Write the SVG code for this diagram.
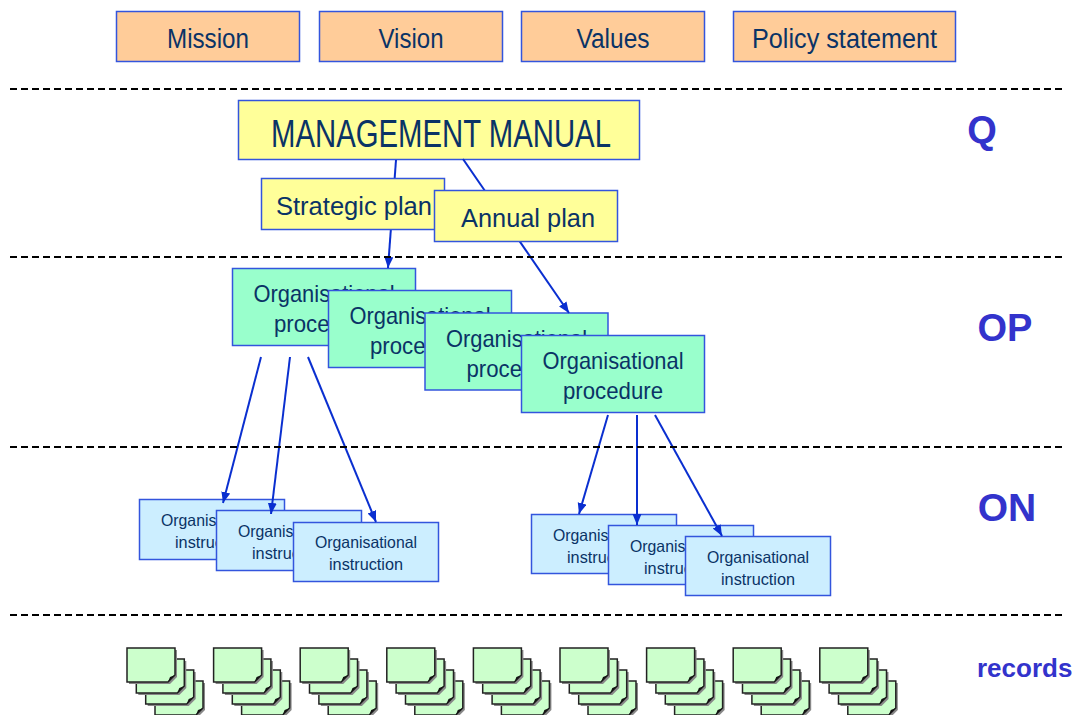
<svg xmlns="http://www.w3.org/2000/svg" xmlns:xlink="http://www.w3.org/1999/xlink" width="1075" height="715" viewBox="0 0 1075 715">
<style>
  .box { stroke: #3355dd; stroke-width: 1.5; }
  .orange { fill: #ffcc99; }
  .yellow { fill: #ffff99; }
  .green { fill: #99ffcc; }
  .blue { fill: #cceeff; }
  .t { font-family: "Liberation Sans", Arial, sans-serif; fill: #0a3366; text-anchor: middle; }
  .lvl { font-family: "Liberation Sans", Arial, sans-serif; font-weight: bold; fill: #3333cc; text-anchor: middle; }
  .dash { stroke: #000; stroke-width: 2; stroke-dasharray: 7 4; fill: none; }
  .conn { stroke: #0a2fd0; stroke-width: 2; fill: none; marker-end: url(#arr); }
  .page { fill: #ccffcc; stroke: #222; stroke-width: 1.5; }
  .shadow { fill: #888; }
</style>
<defs>
  <marker id="arr" markerUnits="userSpaceOnUse" markerWidth="12" markerHeight="10" refX="11" refY="4.5" orient="auto">
    <path d="M0,0 L11,4.5 L0,9 Z" fill="#0a2fd0"/>
  </marker>
  <g id="pg">
    <path class="shadow" d="M2,2 H50 V29 L43,36 H2 Z"/>
    <path class="page" d="M0,0 H48 V27 L41,34 H0 Z"/>
    <path d="M41,34 L43,29 L48,27 Z" fill="#111"/>
  </g>
  <g id="stack">
    <use xlink:href="#pg" x="28" y="33"/>
    <use xlink:href="#pg" x="18.7" y="22"/>
    <use xlink:href="#pg" x="9.3" y="11"/>
    <use xlink:href="#pg" x="0" y="0"/>
  </g>
</defs>
<rect width="1075" height="715" fill="#ffffff"/>

<g id="mission"><rect class="box orange" x="116.5" y="11.5" width="183" height="50"/><text class="t" x="208" y="48" font-size="27" textLength="82" lengthAdjust="spacingAndGlyphs">Mission</text></g>
<g id="vision"><rect class="box orange" x="319.5" y="11.5" width="183" height="50"/><text class="t" x="411" y="48" font-size="27" textLength="65" lengthAdjust="spacingAndGlyphs">Vision</text></g>
<g id="values"><rect class="box orange" x="521.5" y="11.5" width="183" height="50"/><text class="t" x="613" y="48" font-size="27" textLength="73" lengthAdjust="spacingAndGlyphs">Values</text></g>
<g id="policy"><rect class="box orange" x="733.5" y="11.5" width="222" height="50"/><text class="t" x="844.5" y="48" font-size="27" textLength="185" lengthAdjust="spacingAndGlyphs">Policy statement</text></g>

<g id="manual"><rect class="box yellow" x="238.5" y="100.5" width="401" height="59"/><text class="t" x="441" y="147" font-size="38" textLength="340" lengthAdjust="spacingAndGlyphs">MANAGEMENT MANUAL</text></g>

<g id="proc1"><rect class="box green" x="232.5" y="268.5" width="183" height="77"/><text class="t" x="324" y="302" font-size="24" textLength="141" lengthAdjust="spacingAndGlyphs">Organisational</text><text class="t" x="324" y="332" font-size="24" textLength="100" lengthAdjust="spacingAndGlyphs">procedure</text></g>
<g id="proc2"><rect class="box green" x="328.5" y="290.5" width="183" height="77"/><text class="t" x="420" y="324" font-size="24" textLength="141" lengthAdjust="spacingAndGlyphs">Organisational</text><text class="t" x="420" y="354" font-size="24" textLength="100" lengthAdjust="spacingAndGlyphs">procedure</text></g>
<g id="proc3"><rect class="box green" x="425" y="313" width="183" height="77"/><text class="t" x="516.5" y="347" font-size="24" textLength="141" lengthAdjust="spacingAndGlyphs">Organisational</text><text class="t" x="516.5" y="377" font-size="24" textLength="100" lengthAdjust="spacingAndGlyphs">procedure</text></g>
<g id="proc4"><rect class="box green" x="521.5" y="335.5" width="183" height="77"/><text class="t" x="613" y="369" font-size="24" textLength="141" lengthAdjust="spacingAndGlyphs">Organisational</text><text class="t" x="613" y="399" font-size="24" textLength="100" lengthAdjust="spacingAndGlyphs">procedure</text></g>

<g id="instr1"><rect class="box blue" x="139.5" y="499.5" width="145" height="60"/><text class="t" x="212" y="526" font-size="16.5" textLength="102" lengthAdjust="spacingAndGlyphs">Organisational</text><text class="t" x="212" y="548" font-size="16.5" textLength="74" lengthAdjust="spacingAndGlyphs">instruction</text></g>
<g id="instr2"><rect class="box blue" x="216.5" y="510.5" width="145" height="60"/><text class="t" x="289" y="537" font-size="16.5" textLength="102" lengthAdjust="spacingAndGlyphs">Organisational</text><text class="t" x="289" y="559" font-size="16.5" textLength="74" lengthAdjust="spacingAndGlyphs">instruction</text></g>
<g id="instr3"><rect class="box blue" x="293.5" y="522.5" width="145" height="59"/><text class="t" x="366" y="548" font-size="16.5" textLength="102" lengthAdjust="spacingAndGlyphs">Organisational</text><text class="t" x="366" y="570" font-size="16.5" textLength="74" lengthAdjust="spacingAndGlyphs">instruction</text></g>
<g id="instr4"><rect class="box blue" x="531.5" y="514.5" width="145" height="59"/><text class="t" x="604" y="541" font-size="16.5" textLength="102" lengthAdjust="spacingAndGlyphs">Organisational</text><text class="t" x="604" y="563" font-size="16.5" textLength="74" lengthAdjust="spacingAndGlyphs">instruction</text></g>
<g id="instr5"><rect class="box blue" x="608.5" y="525.5" width="145" height="59"/><text class="t" x="681" y="552" font-size="16.5" textLength="102" lengthAdjust="spacingAndGlyphs">Organisational</text><text class="t" x="681" y="574" font-size="16.5" textLength="74" lengthAdjust="spacingAndGlyphs">instruction</text></g>
<g id="instr6"><rect class="box blue" x="685.5" y="536.5" width="145" height="59"/><text class="t" x="758" y="563" font-size="16.5" textLength="102" lengthAdjust="spacingAndGlyphs">Organisational</text><text class="t" x="758" y="585" font-size="16.5" textLength="74" lengthAdjust="spacingAndGlyphs">instruction</text></g>

<g id="connectors">
  <line class="conn" x1="396" y1="160" x2="388" y2="268"/>
  <line class="conn" x1="463" y1="159" x2="569" y2="313"/>
  <line class="conn" x1="261" y1="357" x2="223" y2="503"/>
  <line class="conn" x1="290" y1="357" x2="271" y2="514"/>
  <line class="conn" x1="308" y1="357" x2="376" y2="522"/>
  <line class="conn" x1="608" y1="415" x2="579" y2="514"/>
  <line class="conn" x1="637" y1="415" x2="637" y2="525"/>
  <line class="conn" x1="655" y1="415" x2="722" y2="536"/>
</g>

<g id="strategic"><rect class="box yellow" x="261.5" y="178.5" width="183" height="51"/><text class="t" x="354" y="215" font-size="26" textLength="156" lengthAdjust="spacingAndGlyphs">Strategic plan</text></g>
<g id="annual"><rect class="box yellow" x="434.5" y="190.5" width="183" height="51"/><text class="t" x="528" y="227" font-size="26" textLength="134" lengthAdjust="spacingAndGlyphs">Annual plan</text></g>

<g id="dividers">
  <line class="dash" x1="10" y1="89" x2="1062" y2="89"/>
  <line class="dash" x1="10" y1="257" x2="1062" y2="257"/>
  <line class="dash" x1="10" y1="447" x2="1062" y2="447"/>
  <line class="dash" x1="10" y1="615" x2="1062" y2="615"/>
</g>

<g id="levels">
  <text class="lvl" x="982" y="143" font-size="38">Q</text>
  <text class="lvl" x="1005" y="341" font-size="38">OP</text>
  <text class="lvl" x="1007" y="521" font-size="39">ON</text>
  <text class="lvl" x="977" y="677" font-size="26" style="text-anchor:start">records</text>
</g>

<g id="records">
  <use xlink:href="#stack" x="127" y="648"/>
  <use xlink:href="#stack" x="213.6" y="648"/>
  <use xlink:href="#stack" x="300.2" y="648"/>
  <use xlink:href="#stack" x="386.8" y="648"/>
  <use xlink:href="#stack" x="473.4" y="648"/>
  <use xlink:href="#stack" x="560" y="648"/>
  <use xlink:href="#stack" x="646.6" y="648"/>
  <use xlink:href="#stack" x="733.2" y="648"/>
  <use xlink:href="#stack" x="819.8" y="648"/>
</g>
</svg>
